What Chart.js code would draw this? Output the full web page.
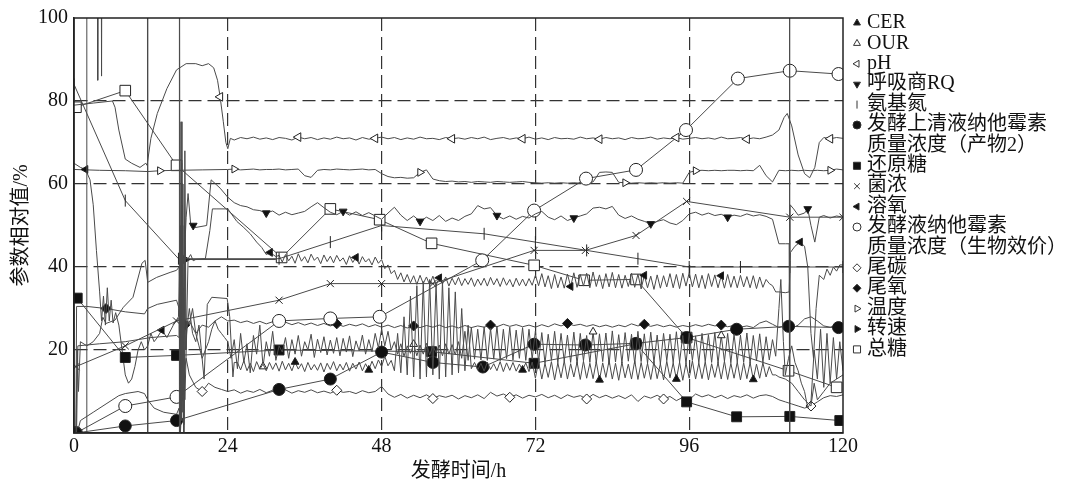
<!DOCTYPE html>
<html lang="zh-CN">
<head>
<meta charset="UTF-8">
<title>发酵过程参数</title>
<script src="https://cdn.jsdelivr.net/npm/chart.js"></script>
<style>
  html, body { margin: 0; padding: 0; background: #fff; }
  #box { width: 1073px; height: 489px; position: relative; }
</style>
</head>
<body>
<div id="box"><canvas id="grafico"></canvas></div>
<script>
// eixos
const xTicks = [0, 24, 48, 72, 96, 120];
const yTicks = [0, 20, 40, 60, 80, 100];

const seriesNames = ['CER', 'OUR', 'pH', '呼吸商RQ', '氨基氮',
  ['发酵上清液纳他霉素', '质量浓度（产物2）'], '还原糖', '菌浓', '溶氧',
  ['发酵液纳他霉素', '质量浓度（生物效价）'], '尾碳', '尾氧', '温度', '转速', '总糖'];

// CER: early pairs, half-hour values from 25.5 h, late pairs
const cerEarly = [[0,0],[0.4,0],[0.6,21],[4,21.5],[8,22],[12,23],[16,23.5],[16.4,23],[16.6,50],[16.8,3],[17,35],[17.3,8],[17.6,25],[18,30],[18.5,24],[19,22],[19.5,26],[20.3,13],[20.8,31],[21.5,32.7],[23.9,32.4],[24.3,28],[24.8,13.5],[25,17]];
const cerMid = [
  17.0,15.2,17.4,15.0,16.8,14.8,17.2,15.4,16.6,15.0,17.0,15.3,16.9,14.9,17.3,15.2,
  16.8,15.0,17.1,15.4,16.7,14.8,17.0,15.2,16.5,15.1,16.9,14.7,16.8,15.3,17.2,15.0,
  16.6,15.2,17.0,14.9,16.8,15.4,17.1,15.0,16.7,15.2,17.3,15.5,17.6,16.0,18.5,16.2,
  17.5,15.0,24.0,14.5,28.0,14.0,33.0,13.5,35.5,13.0,36.5,13.5,37.0,14.0,36.0,13.0,
  36.5,13.5,35.0,14.0,34.0,14.5,30.0,15.0,26.0,15.5,17.0,15.2,16.8,14.9,17.1,15.3,
  16.7,15.0,17.2,14.8,16.9,15.1,17.0,14.9,16.6,15.2,16.9,14.8,17.1,13.2,17.3,13.0,
  16.8,13.4,17.2,12.8,16.9,13.3,17.4,13.0,16.7,13.5,17.1,12.9,17.3,13.2,16.8,13.1,
  17.2,12.8,16.9,13.4,17.5,13.0,16.8,12.7,17.1,13.3,16.6,13.0,17.4,12.9,17.0,13.2,
  16.8,12.9,17.2,13.1,16.7,12.8,17.3,13.3,16.9,13.0,17.1,12.7,16.8,13.2,17.4,13.0,
  16.9,13.1,17.2,12.8,16.7,13.4,17.0,13.0,17.3,12.9,16.8,13.2,17.1,12.8,16.9,13.1,
  17.0,12.9,16.6,13.2,16.9,13.5,16.0,14.0];
const cerLate = [[109.5,14],[110,13.5],[111,13],[112,12],[113,10],[114,8],[115,6.5],[115.5,12],[116,8],[117,10],[118,12],[119,13],[120,14]];

// OUR: half-hour values from 24.5 h
const ourEarly = [[0,0],[0.3,0],[0.5,20],[0.7,10],[1,22],[2,21],[3,22],[4,24],[4.5,27.9],[5,26.4],[6.4,27.2],[7.7,30.3],[9.2,32.7],[10.6,40.9],[11.1,41.6],[11.5,36.3],[12.9,37.5],[15,38.7],[16,39.2],[16.4,40],[16.6,0],[16.8,65],[17,10],[17.2,50],[17.4,20],[17.7,27],[18,26],[18.5,30],[19,24],[19.5,21],[20,18],[21,22],[21.5,25],[22,27],[22.5,25],[23,24],[23.5,23],[24,22]];
const ourMid = [
  18.0,22.5,15.5,24.0,17.0,21.5,14.5,23.5,19.0,26.0,16.0,22.0,18.5,24.5,17.5,21.0,
  19.5,23.0,18.0,22.5,19.0,23.5,18.5,22.0,20.0,23.8,18.2,22.6,19.4,23.2,18.8,22.4,
  19.2,23.0,18.6,22.8,19.5,23.4,18.4,22.2,19.8,23.6,19.0,22.5,19.6,24.0,20.5,25.0,
  21.0,24.5,20.0,22.0,19.0,21.5,18.5,21.0,19.2,21.4,18.6,21.2,19.0,21.6,18.8,21.0,
  19.4,21.2,18.6,21.5,19.0,21.3,18.8,22.0,18.0,24.5,17.5,25.5,17.8,25.0,17.6,25.6,
  17.5,25.2,17.8,25.8,17.4,25.0,17.9,25.5,17.6,24.8,18.0,25.4,17.5,25.0,17.8,24.6,
  17.2,24.2,16.8,23.8,17.5,24.5,16.9,24.0,17.3,23.6,17.0,24.3,16.6,24.0,17.4,23.5,
  17.0,24.4,16.8,23.9,17.2,24.1,16.5,24.6,17.1,23.7,16.9,24.2,17.3,23.8,16.7,24.5,
  17.2,23.9,16.8,24.3,17.0,23.6,16.6,24.0,17.4,23.8,16.9,24.4,17.1,23.5,16.7,24.1,
  17.5,23.4,16.9,24.0,17.2,23.7,17.0,24.2,16.8,23.5,17.3,24.0,16.9,23.8,17.1,23.6,
  17.0,24.1,16.8,23.5,17.4,23.9,17.0,23.2,17.6,22.5,18.5];
const ourLate = [[110,30],[110.3,37],[110.7,22],[111,14],[111.5,18],[112,21],[112.5,17],[113,15],[113.5,12],[114,10],[114.5,6],[115,7.5],[115.5,20],[116,13],[116.5,25],[117,11],[117.5,24],[118,12],[118.5,23],[119,13],[119.5,22],[120,15]];

// pH: hourly values from 25 h
const phEarly = [[0,79],[3,79.5],[6,80],[6.4,78.5],[7,73],[8,66],[9,65],[10.3,64],[11.2,65],[11.4,64.5],[12,71],[13,77],[14.5,83],[16,87.5],[17.5,89],[19,89],[20,88.5],[21,89],[21.8,88],[22.4,85],[22.8,81],[23.3,75],[23.7,70],[24,68.5],[24.4,71]];
const phMid = [
  70.6,71.2,70.9,71.3,70.8,71.1,70.7,71.2,71.0,70.6,71.3,70.9,
  71.2,70.7,71.1,70.8,71.3,70.9,71.1,70.6,71.2,70.8,71.0,71.3,
  70.9,71.2,70.7,71.1,70.8,71.3,70.9,71.0,70.7,71.2,70.9,71.1,
  70.8,71.2,70.9,71.3,70.7,71.0,71.2,70.8,71.1,70.9,71.3,70.8,
  71.1,70.7,71.2,70.9,71.0,70.8,71.3,70.9,71.1,70.8,71.2,70.9,
  71.1,70.7,71.2,70.9,71.0,71.3,70.8,71.1,70.9,71.2,70.8,71.0,
  71.2,70.9,71.1,70.8,71.3,70.9,71.0,71.2,70.8,71.1,70.9,71.3];
const phLate = [[109,71.8],[110,73],[110.8,76],[111.3,77],[112,74],[113,67],[114,62.5],[114.8,61.5],[115.6,64],[116.3,70],[117,71.2],[118,70.9],[119,71.2],[120,71]];

// RQ: hourly values from 25 h
const rqEarly = [[0,0],[1.95,0],[2,150],[3.65,150],[3.7,85],[3.8,150],[4.2,150],[4.3,86],[4.4,150],[11.45,150],[11.5,0],[16.4,0],[16.45,150],[16.55,0],[16.7,75],[16.85,5],[17,60],[17.15,2],[17.3,45],[17.5,52],[17.8,57.7],[18.2,50.5],[18.6,50],[18.9,49.5],[20.7,50],[21.4,61],[22.8,59],[24,56.8]];
const rqMid = [
  55.5,54.8,54.5,53.8,53.6,53.0,53.5,52.5,53.2,52.6,53.0,53.4,
  54.5,55.5,54.3,53.2,52.6,53.4,52.5,53.3,52.4,53.1,52.3,51.5,
  53.0,54.4,52.5,51.2,52.3,51.0,52.0,51.2,52.4,51.0,51.8,51.2,
  52.2,52.8,54.8,54.0,54.3,52.4,51.6,52.3,51.5,52.2,51.8,52.8,
  53.4,52.0,51.4,52.3,51.2,51.8,52.3,52.8,54.2,54.4,54.0,54.6,
  52.5,51.7,52.3,51.5,51.0,50.4,51.0,51.4,50.6,50.2,51.2,52.8,
  53.2,52.5,53.0,52.4,52.7,52.0,52.5,52.2,52.8,52.3,52.6,52.2,
  51.5];
const rqLate = [[110,45.6],[111,45.6],[111.6,45.6],[111.65,150],[111.7,0],[111.75,55],[112.3,54],[113,52.5],[114,53],[114.5,54],[115,50],[115.6,46],[116.3,52],[117,52.4],[118,51.8],[119,52.3],[120,52]];

// 溶氧: half-hour values from 32 h
const doEarly = [[0,65],[1,64],[1.8,63.5],[2.5,61],[3,55],[3.5,44],[4,34],[4.3,27],[4.6,33],[4.9,26],[5.2,35],[5.5,27],[5.8,32],[6.1,26.5],[6.5,29],[7,26],[7.5,20],[8,14],[8.5,12],[9,13],[9.5,16],[10,20],[10.5,22],[11,20],[11.5,21],[12,24],[12.5,22],[13,23],[13.7,24.8],[14.5,23],[15.5,26],[16.3,28],[16.5,40],[16.7,10],[16.9,55],[17.1,0],[17.3,68],[17.5,20],[17.8,42],[18.2,43],[18.6,41.5],[19,41.8],[20.5,42],[21.2,48.8],[21.6,54],[22.3,54],[24,54],[25.4,51],[26.5,49.5],[27.5,48],[28.5,46],[29.3,44.7],[30,43],[30.6,43.5],[31.5,42.5]];
const doMid = [
  42.8,41.2,43.0,41.5,42.6,40.9,43.2,41.4,42.5,41.0,43.1,41.6,42.4,40.8,42.9,41.3,
  42.6,41.0,42.8,41.4,42.2,40.6,42.7,41.1,42.3,40.7,42.5,41.2,42.0,40.5,42.4,40.9,
  41.8,39.6,40.5,38.4,39.2,37.0,38.6,36.4,38.2,36.2,37.9,35.8,38.0,36.0,37.6,35.7,
  37.8,35.6,37.4,35.9,37.6,35.4,37.3,35.7,37.5,35.5,37.2,35.8,37.4,35.3,37.1,35.6,
  37.3,35.4,37.5,35.7,37.2,35.3,37.4,35.6,37.0,35.2,37.3,35.5,37.1,35.4,37.2,35.6,
  38.0,35.5,38.4,35.2,37.9,34.8,38.2,35.0,37.6,34.9,38.3,35.3,38.6,35.1,38.2,35.4,
  38.5,35.0,38.8,35.3,38.1,34.8,38.4,35.2,38.7,35.0,38.2,34.9,38.0,35.3,38.5,35.1,
  38.3,34.7,38.0,35.0,37.8,34.6,38.1,34.9,37.9,35.2,38.4,35.0,38.2,34.8,38.5,35.4,
  38.6,35.2,38.3,35.0,38.0,34.8,38.4,35.3,38.1,35.0,37.9,34.9,38.2,35.1,37.8,35.0,
  38.0,35.2,37.7,35.0,37.9,34.8,37.6,35.1,
  37.0];
const doLate = [[108.5,36],[109,35.5],[109.5,34],[110,34],[111,33.8],[111.6,34],[111.8,43.5],[112.5,45],[113.3,46],[114,45],[114.5,40],[115,24],[115.4,18],[115.8,30],[116.3,38],[117,37],[117.5,39.5],[118,38],[118.5,40],[119,39],[119.5,40.5],[120,40.5]];

// 尾碳: hourly values from 25 h
const co2Early = [[0,0],[0.5,0],[1,3],[3,5],[5,7],[7,9],[8,9.5],[10,10],[11,9.5],[11.5,8],[12.5,6],[14,5],[16,4.5],[16.4,6],[16.6,0],[17,12],[17.5,18],[18,14],[19,11],[20,10],[21,12],[22,11],[23,10.5],[24,10]];
const co2Mid = [
  10.4,9.6,10.2,9.8,10.5,9.7,10.3,9.9,10.4,9.6,10.2,9.8,
  10.4,9.7,10.1,9.6,10.3,9.8,10.0,9.5,10.2,9.7,10.0,11.2,
  9.4,8.6,9.3,8.4,9.1,8.5,9.2,8.3,9.0,8.6,9.1,8.2,
  9.0,8.5,9.2,8.3,9.8,8.9,9.4,8.6,9.2,8.4,9.1,8.7,
  9.3,8.5,9.1,8.3,9.2,8.6,9.0,8.2,9.3,8.5,9.1,8.4,
  9.0,8.3,9.2,7.6,8.9,8.4,9.1,8.2,8.8,7.8,8.6,8.0,
  9.4,8.7,9.2,8.5,9.1,8.3,9.0,8.6,9.2,8.4,9.0];
const co2Late = [[108,9.2],[109,8.8],[110,8],[111,7.5],[112,7],[113,6.5],[114,6],[115,6.5],[116,7.5],[117,8.5],[118,9],[119,8.8],[120,9.2]];

// 尾氧: hourly values from 25 h
const o2Early = [[0,0],[0.3,0],[0.4,30.5],[2,30.5],[5,30],[8,29.2],[11,28.7],[11.5,30],[13,31],[16,32],[16.4,30],[16.6,5],[16.8,60],[17,20],[17.3,26],[17.6,26],[18,27],[19,24],[20,26],[21,25.5],[22,27],[23,28],[24,27]];
const o2Mid = [
  27.2,26.6,27.0,26.4,26.9,26.3,26.8,26.2,26.7,26.1,26.6,26.0,
  26.5,25.9,26.4,25.8,26.3,25.7,26.2,25.8,26.3,25.6,26.1,25.5,
  26.0,25.4,25.9,25.3,25.8,25.4,25.9,25.5,26.0,25.4,25.8,25.3,
  25.9,25.4,25.8,25.5,26.0,25.6,26.2,25.7,26.1,25.6,26.0,25.5,
  26.1,25.6,26.3,25.8,26.4,25.9,26.2,25.7,26.1,25.6,26.0,25.5,
  26.0,25.6,26.3,25.8,26.2,25.7,26.1,25.6,26.0,25.5,25.9,25.6,
  26.1,25.7,26.2,25.8,26.0,25.6,25.9,25.5,25.8,25.4,26.5,27.0,
  26.2,25.4,25.8,25.2,26.0,27.5,28.0,27.0,25.8,25.5,26.0,25.8];

// 温度: hourly values from 25 h
const tempEarly = [[0,63.5],[4,63.3],[8,63.2],[11.5,63],[13.4,63.2],[16,63.3],[20,63.4],[24,63.5]];
const tempMid = [
  63.6,63.4,63.5,63.6,63.4,63.5,63.5,63.6,63.4,63.5,63.6,62.0,
  61.6,63.3,63.5,63.4,63.6,63.5,63.4,63.5,63.6,63.4,63.5,62.5,
  61.8,61.5,61.6,61.4,61.5,62.8,63.4,61.2,60.8,60.6,60.7,60.5,
  60.6,60.4,60.6,60.5,60.4,60.6,60.5,60.4,60.5,60.6,60.4,60.3,
  60.2,60.3,60.2,60.3,60.2,60.3,60.2,60.3,60.5,62.8,62.9,62.8,
  60.4,60.3,60.2,60.3,60.2,60.3,60.2,60.3,60.2,60.3,60.2,62.8,
  63.2,63.3,63.2,63.3,63.2,63.3,63.3,63.2,63.3,63.2,64.5,62.0,
  60.5,63.3,63.2,63.3,63.2,63.3,63.2,63.3,63.2,63.3,63.6,63.4];

// sampled series (time h, value %)
const aminoN = [[0,84],[8,56],[16.3,42],[32,42],[40,46],[48,50],[64,48],[72,46],[80,44],[88,42],[96,40],[104,40],[111.7,40],[120,40]];
const product2 = [[0.3,0],[8,1.7],[16,3],[32,10.5],[40,13],[48,19.5],[56,17],[63.8,15.9],[71.8,21.4],[79.8,21.2],[87.7,21.6],[95.6,23],[103.4,25],[111.5,25.7],[119.3,25.4]];
const reducingSugar = [[0.5,32.5],[8,18.2],[16,18.7],[32,20],[55.8,19.6],[71.8,16.8],[87.7,21.5],[95.6,7.5],[103.4,3.9],[111.7,4],[119.5,3]];
const cellDensity = [[0.3,16],[8,21],[16,27],[32,32],[40,36],[48,36],[56,36],[71.8,44],[79.8,44],[87.7,47.6],[95.6,55.8],[111.7,52],[120,52]];
const titer = [[0.3,0],[8,6.5],[16,8.7],[32,27],[40,27.6],[47.7,28],[63.7,41.6],[71.8,53.6],[79.9,61.3],[87.7,63.4],[95.5,73],[103.6,85.4],[111.7,87.3],[119.3,86.5]];
const speed = [[0,0],[17.2,0],[17.4,41.8],[31.5,41.8]];
const totalSugar = [[0.3,78.5],[8,82.5],[16,64.5],[32.4,42.3],[40,54],[47.7,51.4],[55.8,45.7],[71.8,40.4],[79.6,36.8],[87.7,37],[95.6,23],[111.5,15],[119,11]];

function build(early, start, step, mid, late) {
  const pts = early.map(p => ({x: p[0], y: p[1]}));
  mid.forEach((v, i) => pts.push({x: start + i * step, y: v}));
  (late || []).forEach(p => pts.push({x: p[0], y: p[1]}));
  return pts;
}

const seriesData = [
  build(cerEarly, 25.5, 0.5, cerMid, cerLate),
  build(ourEarly, 24.5, 0.5, ourMid, ourLate),
  build(phEarly, 25, 1, phMid, phLate),
  build(rqEarly, 25, 1, rqMid, rqLate),
  build(aminoN, 0, 0, []),
  build(product2, 0, 0, []),
  build(reducingSugar, 0, 0, []),
  build(cellDensity, 0, 0, []),
  build(doEarly, 32, 0.5, doMid, doLate),
  build(titer, 0, 0, []),
  build(co2Early, 25, 1, co2Mid, co2Late),
  build(o2Early, 25, 1, o2Mid),
  build(tempEarly, 25, 1, tempMid),
  build(speed, 0, 0, []),
  build(totalSugar, 0, 0, [])
];

// marcadores: estilo e em que tempos aparecem (null = todos os pontos)
const looks = [
  {style: 'triangle', rot: 0,   fill: true,  r: 4.5, marks: [34.5, 46, 70, 82, 94, 106]},
  {style: 'triangle', rot: 0,   fill: false, r: 4.5, marks: [29.5, 53, 81, 101]},
  {style: 'triangle', rot: -90, fill: false, r: 5,   marks: [22.8, 35, 47, 59, 70, 82, 94, 105, 118]},
  {style: 'triangle', rot: 180, fill: true,  r: 4.5, marks: [18.6, 30, 42, 54, 66, 78, 90, 102, 114.5]},
  {style: 'line',     rot: 90,  fill: false, r: 6,   marks: null},
  {style: 'circle',   rot: 0,   fill: true,  r: 6,   marks: null},
  {style: 'rect',     rot: 0,   fill: true,  r: 7,   marks: null},
  {style: 'crossRot', rot: 0,   fill: false, r: 5,   marks: null},
  {style: 'triangle', rot: -90, fill: true,  r: 4.5, marks: [1.8, 13.7, 30.6, 44, 57, 77.5, 89, 101, 113.3]},
  {style: 'circle',   rot: 0,   fill: false, r: 6.5, marks: null},
  {style: 'rectRot',  rot: 0,   fill: false, r: 5,   marks: [20, 41, 56, 68, 80, 92, 115]},
  {style: 'rectRot',  rot: 0,   fill: true,  r: 5,   marks: [5, 17.3, 41, 53, 65, 77, 89, 101]},
  {style: 'triangle', rot: 90,  fill: false, r: 4.5, marks: [13.4, 25, 54, 86, 97, 118]},
  {style: 'triangle', rot: 90,  fill: true,  r: 4.5, marks: [17.4]},
  {style: 'rect',     rot: 0,   fill: false, r: 7.5, marks: null}
];

const FONT = '"Liberation Serif", "Noto Sans CJK SC", serif';
Chart.defaults.font.family = FONT;
Chart.defaults.font.size = 20;
Chart.defaults.color = '#111';

function markRadius(look) {
  return function (ctx) {
    if (!ctx.raw) return 0;
    if (look.marks === null) return look.r;
    return look.marks.some(m => Math.abs(m - ctx.raw.x) < 0.01) ? look.r : 0;
  };
}

const datasets = seriesData.map((pts, i) => {
  const look = looks[i];
  return {
    label: [].concat(seriesNames[i]).join(''),
    data: pts,
    borderColor: '#4a4a4a',
    borderWidth: 1,
    tension: 0,
    pointStyle: look.style,
    pointRotation: look.rot,
    pointRadius: markRadius(look),
    pointBorderWidth: 1,
    pointBorderColor: '#222',
    pointBackgroundColor: look.fill ? '#111' : '#fff'
  };
});

// moldura do gráfico
const frame = {
  id: 'frame',
  afterDatasetsDraw(chart) {
    const {ctx, chartArea: a} = chart;
    ctx.save();
    ctx.strokeStyle = '#222';
    ctx.lineWidth = 1.5;
    ctx.strokeRect(a.left, a.top, a.right - a.left, a.bottom - a.top);
    ctx.restore();
  }
};

// legenda à direita
const sideLegend = {
  id: 'sideLegend',
  afterDraw(chart) {
    const ctx = chart.ctx;
    const a = chart.chartArea;
    let row = 0;
    ctx.save();
    ctx.font = '20px ' + FONT;
    ctx.textBaseline = 'middle';
    looks.forEach((look, i) => {
      const y = 23 + row * 20.4;
      ctx.fillStyle = look.fill ? '#111' : '#fff';
      ctx.strokeStyle = '#333';
      ctx.lineWidth = 1;
      Chart.helpers.drawPoint(ctx, {
        pointStyle: look.style, rotation: look.rot,
        radius: look.style === 'rect' ? 5 : 4, borderWidth: 1
      }, a.right + 14, y);
      ctx.fillStyle = '#111';
      const lines = [].concat(seriesNames[i]);
      lines.forEach((t, k) => ctx.fillText(t, a.right + 24, y + k * 20.4));
      row += lines.length;
    });
    ctx.restore();
  }
};

new Chart(document.getElementById('grafico'), {
  type: 'line',
  data: {datasets: datasets},
  plugins: [frame, sideLegend],
  options: {
    responsive: true,
    maintainAspectRatio: false,
    animation: false,
    events: [],
    layout: {padding: {top: 17, right: 230, left: 0, bottom: 0}},
    plugins: {legend: {display: false}, tooltip: {enabled: false}},
    scales: {
      x: {
        type: 'linear', min: 0, max: 120,
        afterBuildTicks: s => { s.ticks = xTicks.map(v => ({value: v})); },
        afterFit: s => { s.height = 56; },
        ticks: {padding: 2, color: '#111', font: {size: 20}},
        grid: {
          drawTicks: false, lineWidth: 1.2,
          color: c => (c.tick && (c.tick.value === 0 || c.tick.value === 120)) ? 'rgba(0,0,0,0)' : '#333'
        },
        border: {display: true, color: '#222', width: 1.5, dash: [13, 6]},
        title: {display: true, text: '发酵时间/h', font: {size: 20}, color: '#111', padding: {top: 0, bottom: 5}}
      },
      y: {
        min: 0, max: 100,
        afterBuildTicks: s => { s.ticks = yTicks.map(v => ({value: v})); },
        afterFit: s => { s.width = 74; },
        ticks: {padding: 6, color: '#111', font: {size: 20}, callback: v => (v === 0 ? '' : v)},
        grid: {
          drawTicks: false, lineWidth: 1.2,
          color: c => (c.tick && (c.tick.value === 0 || c.tick.value === 100)) ? 'rgba(0,0,0,0)' : '#333'
        },
        border: {display: true, color: '#222', width: 1.5, dash: [13, 6]},
        title: {display: true, text: '参数相对值/%', font: {size: 20}, color: '#111', padding: {top: 10, bottom: 0}}
      }
    }
  }
});
</script>
</body>
</html>
